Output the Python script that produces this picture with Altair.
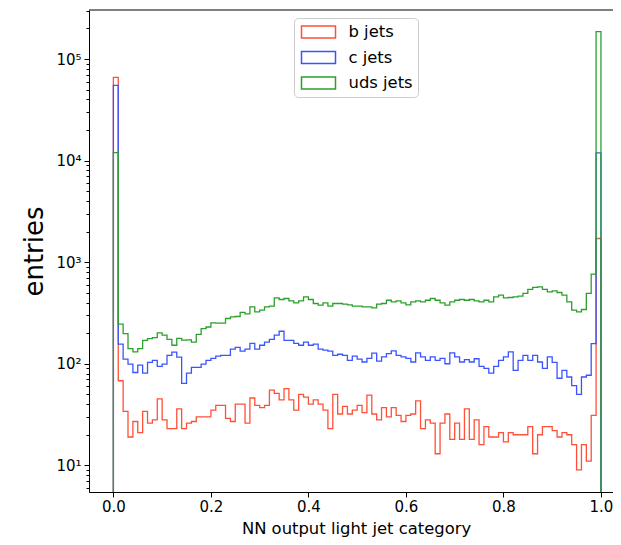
import altair as alt
import pandas as pd

# ---- data (100 bins from 0 to 1) ----
edges = [i / 100 for i in range(101)]
series_names = ["b jets", "c jets", "uds jets"]
series_colors = ["#ff5038", "#3a55ff", "#2ca02c"]

b_jets = [66000, 68, 34, 19, 27, 21, 34, 26, 28, 45,
          28, 23, 23, 36, 23, 26, 27, 30, 30, 30,
          35, 39, 39, 29, 27, 40, 40, 26, 46, 39,
          37, 39, 55, 51, 44, 57, 44, 35, 50, 47,
          40, 44, 40, 35, 23, 50, 32, 38, 32, 35,
          39, 33, 49, 32, 28, 37, 30, 37, 31, 27,
          31, 32, 43, 23, 28, 26, 13, 26, 32, 18,
          26, 18, 36, 18, 28, 16, 24, 19, 19, 21,
          17, 21, 20, 20, 20, 24, 13, 20, 24, 24,
          22, 19, 21, 20, 16, 9, 16, 11, 31, 1710]

c_jets = [55000, 156, 111, 99, 82, 97, 81, 103, 108, 94,
          99, 121, 130, 116, 64, 81, 92, 92, 99, 108,
          113, 119, 121, 121, 139, 145, 133, 139, 159, 139,
          152, 163, 174, 191, 209, 170, 170, 159, 152, 163,
          152, 156, 139, 136, 133, 121, 124, 121, 108, 119,
          111, 104, 113, 127, 106, 117, 126, 134, 121, 117,
          113, 104, 128, 117, 108, 117, 108, 113, 100, 128,
          117, 104, 110, 104, 112, 94, 90, 81, 94, 108,
          117, 131, 86, 108, 121, 108, 121, 104, 90, 117,
          103, 72, 86, 74, 61, 50, 74, 77, 158, 11900]

uds_jets = [12000, 245, 198, 141, 131, 141, 170, 177, 181, 201,
            191, 174, 152, 178, 171, 172, 163, 195, 222, 230,
            253, 251, 251, 279, 290, 292, 320, 310, 363, 324,
            337, 363, 369, 445, 429, 439, 416, 397, 416, 455,
            429, 392, 377, 397, 369, 392, 392, 386, 380, 369,
            369, 363, 363, 355, 386, 392, 422, 406, 416, 397,
            380, 406, 416, 406, 422, 439, 422, 397, 377, 406,
            422, 429, 422, 429, 416, 406, 422, 406, 455, 473,
            445, 449, 455, 463, 492, 539, 566, 571, 539, 510,
            522, 503, 473, 406, 337, 324, 342, 492, 762, 186000]

x_ticks = [0.0, 0.2, 0.4, 0.6, 0.8, 1.0]
y_ticks = [6, 7, 8, 9,
           10, 20, 30, 40, 50, 60, 70, 80, 90,
           100, 200, 300, 400, 500, 600, 700, 800, 900,
           1000, 2000, 3000, 4000, 5000, 6000, 7000, 8000, 9000,
           10000, 20000, 30000, 40000, 50000, 60000, 70000, 80000, 90000,
           100000, 200000, 300000]
FLOOR = 1  # below the visible range; histogram outline starts from the floor

rows = []
for name, vals in zip(series_names, [b_jets, c_jets, uds_jets]):
    pts = [(edges[0], FLOOR)]
    pts += [(edges[i], vals[i]) for i in range(len(vals))]
    pts += [(edges[-1], vals[-1]), (edges[-1], FLOOR)]
    for k, (xv, yv) in enumerate(pts):
        rows.append({"series": name, "x": xv, "count": yv, "order": k})
df = pd.DataFrame(rows)

W, H = 524, 482
FONT = "DejaVu Sans"

label_expr = ("datum.value == 10 ? '10\u00b9' : datum.value == 100 ? '10\u00b2' : "
              "datum.value == 1000 ? '10\u00b3' : datum.value == 10000 ? '10\u2074' : "
              "datum.value == 100000 ? '10\u2075' : ''")

lines = alt.Chart(df).mark_line(interpolate="step-after", clip=True, strokeWidth=1.3).encode(
    x=alt.X("x:Q",
            scale=alt.Scale(domain=[-0.05, 1.0247], nice=False, zero=False),
            axis=alt.Axis(values=x_ticks, format=".1f", grid=False, tickSize=5,
                          tickColor="black", domainColor="black", labelColor="black",
                          labelFont=FONT, labelFontSize=15, labelPadding=2,
                          labelFlush=False, labelOverlap=False,
                          title="NN output light jet category", titleFont=FONT,
                          titleFontSize=16.4, titleFontWeight="normal", titleColor="black",
                          titleX=267, titleY=41, titleAlign="center",
                          titleBaseline="alphabetic")),
    y=alt.Y("count:Q",
            scale=alt.Scale(type="log", domain=[5.46, 304000], nice=False),
            axis=alt.Axis(values=y_ticks, labelExpr=label_expr, grid=False,
                          tickSize={"condition": {"test": "indexof([10,100,1000,10000,100000], datum.value) >= 0",
                                                  "value": 5}, "value": 3},
                          tickColor="black", domainColor="black", labelColor="black",
                          labelFont=FONT, labelFontSize=15, labelPadding=3,
                          labelFlush=False, labelOverlap=False,
                          title="entries", titleFont=FONT, titleFontSize=26,
                          titleFontWeight="normal", titleColor="black",
                          titleX=-55, titleY=241, titleAngle=270,
                          titleAlign="center", titleBaseline="middle")),
    color=alt.Color("series:N",
                    scale=alt.Scale(domain=series_names, range=series_colors),
                    legend=alt.Legend(title=None, orient="none", legendX=205, legendY=8,
                                      symbolType="M-2,-0.7H2V0.7H-2Z", symbolSize=289,
                                      symbolStrokeWidth=1.5, symbolOffset=10.5,
                                      labelFont=FONT, labelFontSize=16.4, labelColor="black",
                                      labelOffset=20.5, rowPadding=6.5, padding=4.5,
                                      strokeColor="#cccccc", fillColor="white",
                                      cornerRadius=4)),
    order=alt.Order("order:Q"),
)

top_spine = alt.Chart(pd.DataFrame({"a": [0]})).mark_rule(color="black", strokeWidth=1).encode(
    x=alt.value(0), x2=alt.value(W), y=alt.value(0)
)

chart = alt.layer(lines, top_spine).properties(
    width=W, height=H,
    autosize=alt.AutoSizeParams(type="none"),
    padding={"left": 81, "top": 2, "right": 0, "bottom": 45},
).configure_view(stroke=None)

chart.save("out.html", embed_options={"renderer": "svg", "actions": False})
